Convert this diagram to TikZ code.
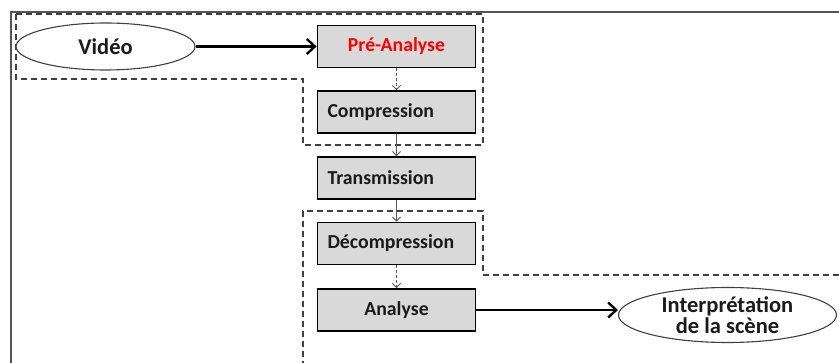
\documentclass[tikz,border=0pt]{standalone}
\usepackage{fontspec}
\setmainfont{Carlito}
\usetikzlibrary{arrows.meta,shapes.geometric}

\definecolor{boxfill}{HTML}{D9D9D9}
\definecolor{framegray}{HTML}{555555}
\definecolor{dashgray}{HTML}{404040}
\definecolor{linkgray}{HTML}{595959}
\definecolor{textdark}{HTML}{1A1A1A}

\tikzset{
  stage/.style={draw=black, line width=1.8pt, fill=boxfill, minimum width=158pt,
    minimum height=42pt, inner sep=0pt, font=\fontsize{19.8}{21}\selectfont\bfseries,
    text=textdark},
  stageleft/.style={stage, text width=138pt, align=left, inner xsep=10pt},
  stagemid/.style={stage, text width=158pt, align=center},
  endpoint/.style={ellipse, draw=dashgray, line width=1.1pt, fill=white, inner sep=0pt,
    font=\fontsize{22.5}{24}\selectfont\bfseries, text=textdark, align=center},
  group/.style={draw=dashgray, line width=1.5pt, dash pattern=on 6pt off 4pt},
  mainflow/.style={draw=black, line width=2.4pt, -{Straight Barb[length=8pt,width=15pt,line width=2.4pt]}},
  link/.style={draw=linkgray, line width=0.9pt, -{Straight Barb[length=4pt,width=8pt,line width=0.9pt]}},
  dashedlink/.style={link, dash pattern=on 3pt off 2pt}
}

\begin{document}
\begin{tikzpicture}[x=1pt, y=-1pt]
  \useasboundingbox (0,0) rectangle (839,363);

  % outer frame (top and left edges)
  \draw[framegray, line width=2pt] (11,363) -- (11,12) -- (839,12);

  % dashed grouping outlines
  \draw[group] (16,14) -- (483,14) -- (483,145) -- (303,145) -- (303,79) -- (16,79) -- cycle;
  \draw[group] (839,275) -- (483,275) -- (483,211) -- (303,211) -- (303,363);

  % processing stages
  \node[stagemid, text=red] (pre)   at (396.5,46.5)  {Pré-Analyse};
  \node[stageleft]          (comp)  at (396.5,112)   {Compression};
  \node[stageleft]          (trans) at (396.5,178)   {Transmission};
  \node[stageleft]          (decomp)at (396.5,243.5) {Décompression};
  \node[stagemid]           (ana)   at (396.5,310)   {Analyse};

  % input and output
  \node[endpoint, minimum width=179pt, minimum height=47pt] (video) at (105.5,46.5) {Vidéo};
  \node[endpoint, minimum width=218pt, minimum height=55pt] (interp) at (727.5,315)
    {Interprétation\\[-3pt]de la scène};

  % connectors
  \draw[mainflow] (video.east) -- (pre.west);
  \draw[mainflow] (ana.east) -- (ana.east -| interp.west);
  \draw[dashedlink] (pre.south) -- (comp.north);
  \draw[link] (comp.south) -- (trans.north);
  \draw[link] (trans.south) -- (decomp.north);
  \draw[dashedlink] (decomp.south) -- (ana.north);
\end{tikzpicture}
\end{document}
